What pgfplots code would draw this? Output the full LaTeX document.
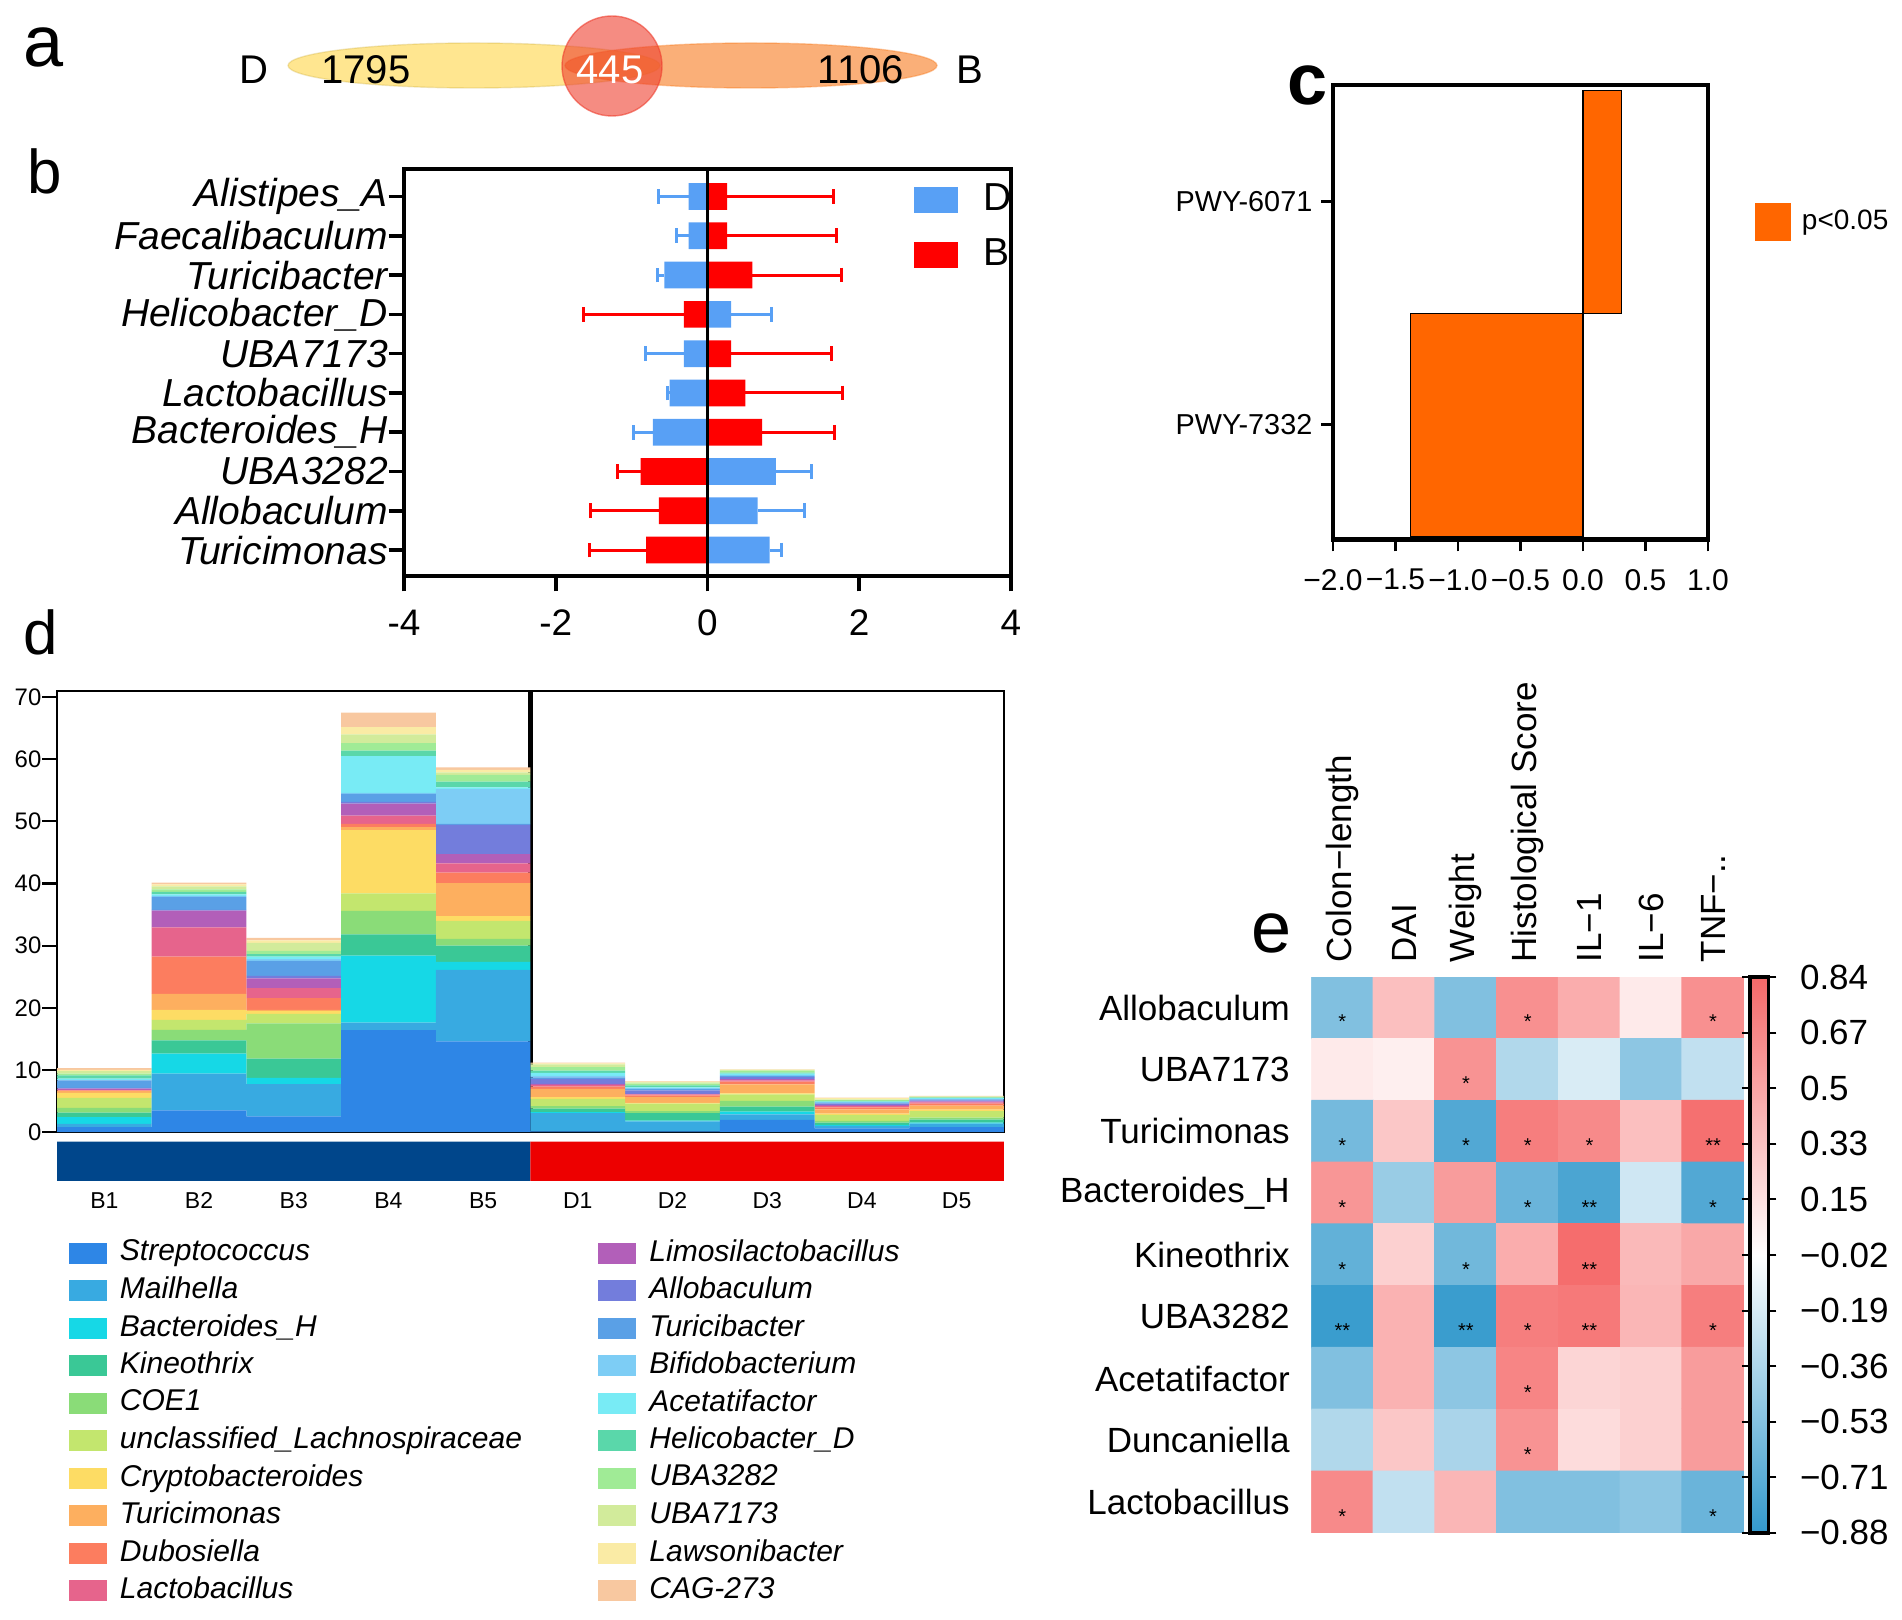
\documentclass[border=0pt]{standalone}
\usepackage{fontspec}
\setmainfont{Liberation Sans}
\usepackage{pgfplots}
\pgfplotsset{compat=1.18}
\usepackage{pgfplotstable}
\newcommand{\fs}[1]{\fontsize{#1pt}{#1pt}\selectfont}

\definecolor{vennY}{RGB}{255,214,70}
\definecolor{vennO}{RGB}{247,122,30}
\definecolor{vennR}{RGB}{238,63,47}
\definecolor{barD}{RGB}{88,160,245}
\definecolor{barB}{RGB}{255,0,0}
\definecolor{pwy}{RGB}{255,102,0}
\definecolor{grpB}{RGB}{0,70,139}
\definecolor{grpD}{RGB}{237,0,0}
% genus colours, bottom to top of the stack
\definecolor{k1}{RGB}{46,134,230}
\definecolor{k2}{RGB}{56,170,225}
\definecolor{k3}{RGB}{22,216,230}
\definecolor{k4}{RGB}{58,200,150}
\definecolor{k5}{RGB}{138,220,120}
\definecolor{k6}{RGB}{195,230,110}
\definecolor{k7}{RGB}{253,220,100}
\definecolor{k8}{RGB}{253,175,95}
\definecolor{k9}{RGB}{252,125,95}
\definecolor{k10}{RGB}{230,100,140}
\definecolor{k11}{RGB}{178,95,185}
\definecolor{k12}{RGB}{115,125,220}
\definecolor{k13}{RGB}{90,160,230}
\definecolor{k14}{RGB}{125,205,245}
\definecolor{k15}{RGB}{120,235,245}
\definecolor{k16}{RGB}{90,215,170}
\definecolor{k17}{RGB}{160,235,150}
\definecolor{k18}{RGB}{210,235,155}
\definecolor{k19}{RGB}{250,235,165}
\definecolor{k20}{RGB}{248,200,160}

% panel d: relative abundance per sample
\pgfplotstableread{
x c1 c2 c3 c4 c5 c6 c7 c8 c9 c10 c11 c12 c13 c14 c15 c16 c17 c18 c19 c20
0 0.8 0.5 1.1 0.7 0.8 1.6 0.8 0.3 0.1 0.1 0.2 0.1 1.2 0.1 0.2 0.5 0.3 0.4 0.2 0.3
1 3.5 5.9 3.2 2.15 1.7 1.6 1.6 2.6 6.0 4.7 2.7 0.1 2.1 0.15 0.25 0.4 0.4 0.5 0.3 0.3
2 2.5 5.2 1.0 3.1 5.7 1.5 0.45 0.2 1.9 1.6 1.6 0.4 2.4 0.3 0.4 0.4 0.5 1.3 0.4 0.4
3 16.4 1.2 10.8 3.4 3.8 2.8 10.2 0.5 0.5 1.35 1.9 0.3 1.3 0.15 5.9 0.9 1.2 1.4 1.2 2.3
4 14.6 11.5 1.3 2.6 1.1 2.9 0.75 5.3 1.7 1.5 1.5 4.7 0.15 5.6 0.3 0.9 1.1 0.4 0.4 0.4
5 0.1 2.95 0.15 0.55 0.4 1.2 0.25 1.35 0.35 0.3 0.15 0.8 0.25 0.25 0.45 0.4 0.55 0.45 0.15 0.1
6 0.1 1.6 0.15 1.2 0.3 1.2 0.15 0.9 0.3 0.15 0.1 0.55 0.2 0.15 0.15 0.3 0.3 0.2 0.1 0.1
7 1.95 0.9 0.45 0.8 0.9 1.05 0.15 1.45 0.45 0.2 0.2 0.35 0.2 0.15 0.2 0.15 0.35 0.1 0.05 0.05
8 0.6 0.4 0.15 0.35 0.3 0.95 0.2 0.7 0.3 0.2 0.2 0.2 0.15 0.1 0.1 0.1 0.15 0.1 0.2 0.1
9 0.8 0.55 0.15 0.5 0.3 1.05 0.25 0.65 0.3 0.2 0.2 0.15 0.15 0.1 0.1 0.1 0.1 0.05 0.05 0.05
}\ddata

% panel e: correlations
\pgfplotstableread{
x y v
0 0 -0.55
1 0 0.35
2 0 -0.55
3 0 0.62
4 0 0.45
5 0 0.10
6 0 0.62
0 1 0.10
1 1 0.07
2 1 0.60
3 1 -0.35
4 1 -0.18
5 1 -0.50
6 1 -0.28
0 2 -0.60
1 2 0.30
2 2 -0.75
3 2 0.72
4 2 0.65
5 2 0.35
6 2 0.80
0 3 0.58
1 3 -0.45
2 3 0.55
3 3 -0.65
4 3 -0.78
5 3 -0.22
6 3 -0.75
0 4 -0.68
1 4 0.25
2 4 -0.62
3 4 0.45
4 4 0.82
5 4 0.38
6 4 0.48
0 5 -0.85
1 5 0.42
2 5 -0.85
3 5 0.72
4 5 0.75
5 5 0.40
6 5 0.72
0 6 -0.55
1 6 0.42
2 6 -0.50
3 6 0.68
4 6 0.22
5 6 0.25
6 6 0.55
0 7 -0.35
1 7 0.30
2 7 -0.38
3 7 0.60
4 7 0.18
5 7 0.25
6 7 0.55
0 8 0.65
1 8 -0.28
2 8 0.40
3 8 -0.55
4 8 -0.55
5 8 -0.50
6 8 -0.65
}\edata

\pgfplotstableread{
x y s
0 0 *
3 0 *
6 0 *
2 1 *
0 2 *
2 2 *
3 2 *
4 2 *
6 2 **
0 3 *
3 3 *
4 3 **
6 3 *
0 4 *
2 4 *
4 4 **
0 5 **
2 5 **
3 5 *
4 5 **
6 5 *
3 6 *
3 7 *
0 8 *
6 8 *
}\sdata

\begin{document}
\begin{tikzpicture}
\useasboundingbox (0,0) rectangle (19.02,16.19);

% ---------- a: Venn ----------
\begin{axis}[at={(0cm,16.19cm)}, anchor=north west, scale only axis, hide axis, clip=false,
  width=11cm, height=1.6cm, xmin=0, xmax=1100, ymin=0, ymax=160, y dir=reverse]
\filldraw[fill=vennY, fill opacity=0.6, draw=vennY!80!black, draw opacity=0.3, line width=0.4pt]
  (axis cs:474,65.5) ellipse [x radius=1.86cm, y radius=0.225cm];
\filldraw[fill=vennO, fill opacity=0.6, draw=vennO, draw opacity=0.4, line width=0.4pt]
  (axis cs:751,65.5) ellipse [x radius=1.86cm, y radius=0.225cm];
\filldraw[fill=vennR, fill opacity=0.6, draw=vennR, draw opacity=0.6, line width=0.4pt]
  (axis cs:612,66) circle [radius=0.5cm];
\node[font=\fs{11.4}] at (axis cs:254,70) {D};
\node[font=\fs{11.4}] at (axis cs:366,70) {1795};
\node[font=\fs{11.4}, text=white] at (axis cs:610,70) {445};
\node[font=\fs{11.4}] at (axis cs:861,70) {1106};
\node[font=\fs{11.4}] at (axis cs:970,70) {B};
\end{axis}

% ---------- b: differential genera ----------
\begin{axis}[at={(4.04cm,10.43cm)}, anchor=south west, scale only axis,
  width=6.07cm, height=4.07cm,
  xbar, bar width=0.68, bar shift=0,
  xmin=-4, xmax=4, ymin=-0.66, ymax=9.7,
  xtick={-4,-2,0,2,4}, xticklabels={-4,-2,0,2,4},
  ytick={0,...,9},
  yticklabels={Turicimonas,Allobaculum,UBA3282,Bacteroides\_H,Lactobacillus,UBA7173,Helicobacter\_D,Turicibacter,Faecalibaculum,Alistipes\_A},
  tick align=outside, xtick pos=bottom, ytick pos=left,
  major tick length=0.155cm,
  axis line style={line width=1.15pt},
  every tick/.style={black, line width=1pt},
  xticklabel style={font=\fs{10.5}, inner sep=0pt, anchor=north},
  xticklabel shift=0.18cm,
  yticklabel style={font=\fs{11.1}\itshape, inner sep=0pt, anchor=east},
  clip=false,
  legend image code/.code={\path[draw=none, fill=none] (0cm,-0.275cm) rectangle (0.44cm,0.275cm);
    \fill[#1] (0cm,-0.13cm) rectangle (0.44cm,0.13cm);},
  legend style={at={(0.8402,0.9914)}, anchor=north west, draw=none, fill=none,
    inner sep=0pt, outer sep=0pt, font=\fs{11.1}, row sep=0pt,
    nodes={inner sep=0pt},
    /tikz/every odd column/.append style={column sep=0.26cm}},
  legend cell align=left,
]
\addplot[fill=barD, draw=none,
  error bars/.cd, x dir=minus, x explicit,
  error bar style={line width=0.85pt, barD},
  error mark options={rotate=90, line width=0.85pt, barD, mark size=2.1pt}]
  coordinates {(-0.25,9) +- (0.39,0) (-0.25,8) +- (0.16,0) (-0.57,7) +- (0.09,0)
               (-0.31,5) +- (0.51,0) (-0.50,4) +- (0.03,0) (-0.72,3) +- (0.25,0)};
\addlegendentry{D}
\addplot[fill=barD, draw=none, forget plot,
  error bars/.cd, x dir=plus, x explicit,
  error bar style={line width=0.85pt, barD},
  error mark options={rotate=90, line width=0.85pt, barD, mark size=2.1pt}]
  coordinates {(0.31,6) +- (0.53,0) (0.90,2) +- (0.47,0) (0.66,1) +- (0.62,0) (0.82,0) +- (0.15,0)};
\addplot[fill=barB, draw=none,
  error bars/.cd, x dir=plus, x explicit,
  error bar style={line width=0.85pt, barB},
  error mark options={rotate=90, line width=0.85pt, barB, mark size=2.1pt}]
  coordinates {(0.26,9) +- (1.40,0) (0.26,8) +- (1.44,0) (0.59,7) +- (1.17,0)
               (0.31,5) +- (1.32,0) (0.50,4) +- (1.28,0) (0.72,3) +- (0.96,0)};
\addlegendentry{B}
\addplot[fill=barB, draw=none, forget plot,
  error bars/.cd, x dir=minus, x explicit,
  error bar style={line width=0.85pt, barB},
  error mark options={rotate=90, line width=0.85pt, barB, mark size=2.1pt}]
  coordinates {(-0.31,6) +- (1.32,0) (-0.88,2) +- (0.31,0) (-0.64,1) +- (0.90,0) (-0.81,0) +- (0.75,0)};
\draw[line width=1.1pt] (axis cs:0,-0.66) -- (axis cs:0,9.7);
\end{axis}

% ---------- c: pathways ----------
\begin{axis}[at={(13.33cm,10.795cm)}, anchor=south west, scale only axis,
  width=3.75cm, height=4.545cm,
  xbar, bar width=1, bar shift=0,
  xmin=-2, xmax=1, ymin=-0.514, ymax=1.523,
  xtick={-2,-1.5,-1,-0.5,0,0.5,1},
  xticklabels={−2.0,−1.5,−1.0,−0.5,0.0,0.5,1.0},
  ytick={0,1}, yticklabels={PWY-7332,PWY-6071},
  tick align=outside, xtick pos=bottom, ytick pos=left,
  major tick length=0.12cm,
  axis line style={line width=1.35pt},
  every tick/.style={black, line width=0.8pt},
  xticklabel style={font=\fs{8.54}, inner sep=0pt, anchor=north},
  xticklabel shift=0.17cm,
  yticklabel style={font=\fs{8.2}, inner sep=0pt, anchor=east},
  yticklabel shift=0.08cm,
  clip=false,
  legend image code/.code={\fill[pwy] (0cm,-0.185cm) rectangle (0.35cm,0.185cm);},
  legend style={at={(1.125,0.7404)}, anchor=north west, draw=none, fill=none,
    inner sep=0pt, outer sep=0pt, font=\fs{7.97},
    nodes={inner sep=0pt},
    /tikz/every odd column/.append style={column sep=0.11cm}},
  legend cell align=left,
]
\addplot[fill=pwy, draw=black, line width=0.3pt] coordinates {(0.31,1) (-1.38,0)};
\addlegendentry{p<0.05}
\end{axis}

% ---------- d: stacked composition ----------
\begin{axis}[at={(0.57cm,4.87cm)}, anchor=south west, scale only axis,
  width=9.47cm, height=4.41cm,
  ybar stacked, bar width=1,
  xmin=-0.5, xmax=9.5, ymin=0, ymax=71,
  xtick=\empty, ytick={0,10,...,70},
  ytick pos=left, tick align=outside, major tick length=0.15cm,
  axis line style={line width=0.6pt},
  every tick/.style={black, line width=0.6pt},
  yticklabel style={font=\fs{6.8}, inner sep=0pt, anchor=east},
  /pgf/number format/assume math mode=true,
  clip=false,
  legend columns=10, transpose legend, legend cell align=left,
  legend entries={Streptococcus,Mailhella,Bacteroides\_H,Kineothrix,COE1,unclassified\_Lachnospiraceae,Cryptobacteroides,Turicimonas,Dubosiella,Lactobacillus,Limosilactobacillus,Allobaculum,Turicibacter,Bifidobacterium,Acetatifactor,Helicobacter\_D,UBA3282,UBA7173,Lawsonibacter,CAG-273},
  legend image code/.code={\path[draw=none, fill=none] (0cm,-0.1875cm) rectangle (0.38cm,0.1875cm);
    \fill[#1] (0cm,-0.105cm) rectangle (0.38cm,0.105cm);},
  legend style={at={(0.01214,-0.2319)}, anchor=north west, draw=none, fill=none,
    inner sep=0pt, outer sep=0pt, font=\fs{8.54}\itshape, row sep=0pt,
    nodes={inner sep=0pt},
    /tikz/every odd column/.append style={column sep=0.134cm},
    /tikz/every even column/.append style={column sep=0.76cm}},
]
\pgfplotsinvokeforeach{1,...,20}{
  \addplot[fill=k#1, draw=none] table[x=x, y=c#1] {\ddata};
}
\draw[line width=1.3pt] (axis cs:4.5,0) -- (axis cs:4.5,71);
\end{axis}

% group strip under d
\begin{axis}[at={(0.57cm,4.38cm)}, anchor=south west, scale only axis,
  width=9.47cm, height=0.394cm,
  ybar, bar width=1, bar shift=0,
  xmin=-0.5, xmax=9.5, ymin=0, ymax=1,
  axis line style={draw=none}, ytick=\empty,
  xtick={0,...,9}, xticklabels={B1,B2,B3,B4,B5,D1,D2,D3,D4,D5},
  major tick length=0pt,
  xticklabel style={font=\fs{6.54}, inner sep=0pt, anchor=north},
  xticklabel shift=0.11cm,
]
\addplot[fill=grpB, draw=none] coordinates {(0,1) (1,1) (2,1) (3,1) (4,1)};
\addplot[fill=grpD, draw=none] coordinates {(5,1) (6,1) (7,1) (8,1) (9,1)};
\end{axis}

% ---------- e: correlation heatmap ----------
\begin{axis}[at={(13.114cm,6.42cm)}, anchor=north west, scale only axis,
  width=4.326cm, height=5.56cm,
  xmin=-0.5, xmax=6.5, ymin=-0.5, ymax=8.5, y dir=reverse, enlargelimits=false,
  axis line style={draw=none}, major tick length=0pt,
  xtick={0,...,6},
  xticklabels={Colon−length,DAI,Weight,Histological Score,IL−1,IL−6,TNF−..},
  xticklabel pos=upper,
  xticklabel style={rotate=90, anchor=west, inner sep=0pt, font=\fs{9.96}},
  xticklabel shift=0.14cm,
  ytick={0,...,8},
  yticklabels={Allobaculum,UBA7173,Turicimonas,Bacteroides\_H,Kineothrix,UBA3282,Acetatifactor,Duncaniella,Lactobacillus},
  yticklabel style={anchor=east, inner sep=0pt, font=\fs{9.96}},
  yticklabel shift=0.21cm,
  colormap={bwr}{rgb255=(51,153,204) rgb255=(255,255,255) rgb255=(245,105,105)},
  point meta min=-0.88, point meta max=0.84,
  colorbar,
  colorbar shift/.style={xshift=0.056cm},
  colorbar style={width=0.184cm,
    ytick={0.84,0.668,0.496,0.324,0.152,-0.02,-0.192,-0.364,-0.536,-0.708,-0.88},
    yticklabels={0.84,0.67,0.5,0.33,0.15,−0.02,−0.19,−0.36,−0.53,−0.71,−0.88},
    yticklabel style={font=\fs{9.96}, inner sep=0pt, anchor=west},
    yticklabel shift=0.23cm,
    tick align=outside, major tick length=0.08cm,
    axis line style={line width=0.9pt},
    every tick/.style={black, line width=0.6pt}},
]
\addplot[matrix plot*, mesh/cols=7, point meta=explicit] table[x=x, y=y, meta=v] {\edata};
\addplot[only marks, mark=none, nodes near coords, point meta=explicit symbolic,
  nodes near coords style={font=\fs{5.7}, anchor=base, yshift=-0.6em, inner sep=0pt}]
  table[x=x, y=y, meta=s] {\sdata};
\end{axis}

% panel letters
\node[anchor=base, font=\fs{20.5}] at (0.44,15.52) {a};
\node[anchor=base, font=\fs{17.6}] at (0.45,14.25) {b};
\node[anchor=base, font=\fs{20.5}\bfseries] at (13.08,15.14) {c};
\node[anchor=base, font=\fs{17.6}] at (0.41,9.64) {d};
\node[anchor=base, font=\fs{20.5}] at (12.715,6.66) {e};
\end{tikzpicture}
\end{document}
